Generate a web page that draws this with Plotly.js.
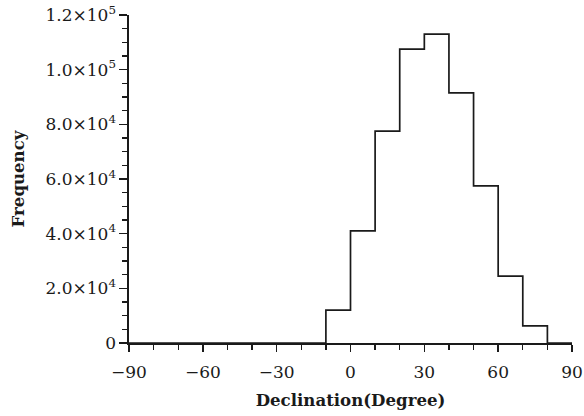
<!DOCTYPE html>
<html>
<head>
<meta charset="utf-8">
<script src="https://cdn.plot.ly/plotly-3.0.1.min.js"></script>
<style>html,body{margin:0;padding:0;background:#fff}#chart{width:584px;height:416px}</style>
</head>
<body>
<div id="chart"></div>
<script>
// Bin edges (degrees) and counts per bin
const binEdges = [-90, -80, -70, -60, -50, -40, -30, -20, -10, 0, 10, 20, 30, 40, 50, 60, 70, 80, 90];
const counts = [0, 0, 0, 0, 0, 0, 0, 0, 12000, 41000, 77500, 107500, 113000, 91500, 57500, 24500, 6300, 0];

const xTickVals = [-90, -60, -30, 0, 30, 60, 90];
const xTickText = ['\u221290', '\u221260', '\u221230', '0', '30', '60', '90'];
const yTickVals = [0, 20000, 40000, 60000, 80000, 100000, 120000];
const yTickText = ['0', '2.0\u00d710<sup>4</sup>', '4.0\u00d710<sup>4</sup>', '6.0\u00d710<sup>4</sup>',
                   '8.0\u00d710<sup>4</sup>', '1.0\u00d710<sup>5</sup>', '1.2\u00d710<sup>5</sup>'];

const stepY = counts.concat([counts[counts.length - 1]]);

const trace = {
  type: 'scatter',
  mode: 'lines',
  x: binEdges,
  y: stepY,
  line: {shape: 'hv', color: '#1a1a1a', width: 1.7},
  hoverinfo: 'skip'
};

const tickFont = {family: 'DejaVu Serif, serif', size: 17, color: '#1a1a1a'};
const titleFont = {family: 'DejaVu Serif, serif', size: 16.6, color: '#1a1a1a', weight: 'bold'};

const layout = {
  width: 584, height: 416,
  margin: {l: 129, r: 12, t: 15, b: 73},
  paper_bgcolor: '#fff', plot_bgcolor: '#fff',
  showlegend: false,
  xaxis: {
    range: [-90, 90],
    tickmode: 'array', tickvals: xTickVals, ticktext: xTickText,
    ticks: 'outside', ticklen: 7, tickwidth: 1.4, tickcolor: '#1a1a1a',
    minor: {tickmode: 'linear', tick0: -90, dtick: 10, ticks: 'outside', ticklen: 5, tickwidth: 1.4, tickcolor: '#1a1a1a'},
    showline: true, linecolor: '#1a1a1a', linewidth: 1.6,
    showgrid: false, zeroline: false,
    tickfont: tickFont, ticklabelstandoff: 6,
    title: {text: 'Declination(Degree)', font: titleFont, standoff: 13}
  },
  yaxis: {
    range: [0, 120000],
    tickmode: 'array', tickvals: yTickVals, ticktext: yTickText,
    ticks: 'outside', ticklen: 8, tickwidth: 1.4, tickcolor: '#1a1a1a',
    minor: {tickmode: 'linear', tick0: 0, dtick: 5000, ticks: 'outside', ticklen: 5, tickwidth: 1.4, tickcolor: '#1a1a1a'},
    showline: true, linecolor: '#1a1a1a', linewidth: 1.6,
    showgrid: false, zeroline: false,
    tickfont: tickFont,
    title: {text: 'Frequency', font: titleFont, standoff: 16}
  }
};

Plotly.newPlot('chart', [trace], layout, {displayModeBar: false, staticPlot: true});
</script>
</body>
</html>
